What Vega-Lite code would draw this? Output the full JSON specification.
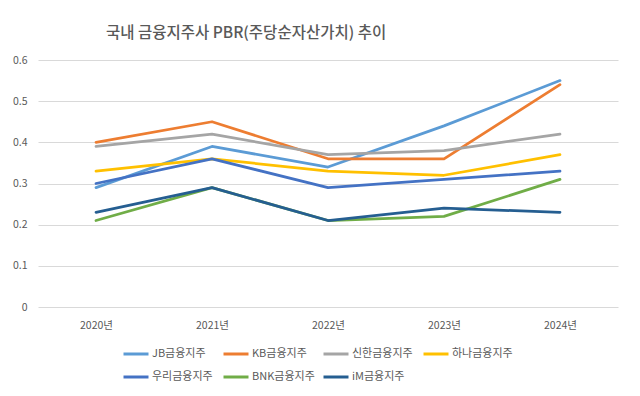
{
  "$schema": "https://vega.github.io/schema/vega-lite/v6.json",
  "autosize": {"type": "none"},
  "width": 580,
  "height": 247,
  "padding": {"left": 38, "top": 60, "right": 22, "bottom": 89},
  "background": "white",
  "title": {
    "text": "국내 금융지주사 PBR(주당순자산가치) 추이",
    "anchor": "start",
    "frame": "group",
    "dx": 68,
    "offset": 14,
    "font": "Noto Sans CJK KR",
    "fontSize": 15.5,
    "fontWeight": 500,
    "color": "#595959"
  },
  "data": {
    "values": [
      {"year": "2020년", "company": "JB금융지주", "pbr": 0.29},
      {"year": "2021년", "company": "JB금융지주", "pbr": 0.39},
      {"year": "2022년", "company": "JB금융지주", "pbr": 0.34},
      {"year": "2023년", "company": "JB금융지주", "pbr": 0.44},
      {"year": "2024년", "company": "JB금융지주", "pbr": 0.55},
      {"year": "2020년", "company": "KB금융지주", "pbr": 0.40},
      {"year": "2021년", "company": "KB금융지주", "pbr": 0.45},
      {"year": "2022년", "company": "KB금융지주", "pbr": 0.36},
      {"year": "2023년", "company": "KB금융지주", "pbr": 0.36},
      {"year": "2024년", "company": "KB금융지주", "pbr": 0.54},
      {"year": "2020년", "company": "신한금융지주", "pbr": 0.39},
      {"year": "2021년", "company": "신한금융지주", "pbr": 0.42},
      {"year": "2022년", "company": "신한금융지주", "pbr": 0.37},
      {"year": "2023년", "company": "신한금융지주", "pbr": 0.38},
      {"year": "2024년", "company": "신한금융지주", "pbr": 0.42},
      {"year": "2020년", "company": "하나금융지주", "pbr": 0.33},
      {"year": "2021년", "company": "하나금융지주", "pbr": 0.36},
      {"year": "2022년", "company": "하나금융지주", "pbr": 0.33},
      {"year": "2023년", "company": "하나금융지주", "pbr": 0.32},
      {"year": "2024년", "company": "하나금융지주", "pbr": 0.37},
      {"year": "2020년", "company": "우리금융지주", "pbr": 0.30},
      {"year": "2021년", "company": "우리금융지주", "pbr": 0.36},
      {"year": "2022년", "company": "우리금융지주", "pbr": 0.29},
      {"year": "2023년", "company": "우리금융지주", "pbr": 0.31},
      {"year": "2024년", "company": "우리금융지주", "pbr": 0.33},
      {"year": "2020년", "company": "BNK금융지주", "pbr": 0.21},
      {"year": "2021년", "company": "BNK금융지주", "pbr": 0.29},
      {"year": "2022년", "company": "BNK금융지주", "pbr": 0.21},
      {"year": "2023년", "company": "BNK금융지주", "pbr": 0.22},
      {"year": "2024년", "company": "BNK금융지주", "pbr": 0.31},
      {"year": "2020년", "company": "iM금융지주", "pbr": 0.23},
      {"year": "2021년", "company": "iM금융지주", "pbr": 0.29},
      {"year": "2022년", "company": "iM금융지주", "pbr": 0.21},
      {"year": "2023년", "company": "iM금융지주", "pbr": 0.24},
      {"year": "2024년", "company": "iM금융지주", "pbr": 0.23}
    ]
  },
  "mark": {"type": "line", "strokeWidth": 2.75, "strokeCap": "round", "strokeJoin": "round"},
  "encoding": {
    "x": {
      "field": "year",
      "type": "nominal",
      "sort": null,
      "scale": {"type": "point", "padding": 0.5},
      "axis": {
        "title": null,
        "labelAngle": 0,
        "domain": false,
        "ticks": false,
        "labelPadding": 13,
        "labelFont": "Noto Sans CJK KR",
        "labelFontSize": 10.5,
        "labelColor": "#595959"
      }
    },
    "y": {
      "field": "pbr",
      "type": "quantitative",
      "scale": {"domain": [0, 0.6], "nice": false},
      "axis": {
        "title": null,
        "values": [0, 0.1, 0.2, 0.3, 0.4, 0.5, 0.6],
        "format": "~g",
        "domain": false,
        "ticks": false,
        "labelPadding": 11,
        "gridColor": "#d9d9d9",
        "gridWidth": 1,
        "labelFont": "Noto Sans CJK KR",
        "labelFontSize": 10.5,
        "labelColor": "#595959"
      }
    },
    "color": {
      "field": "company",
      "type": "nominal",
      "sort": null,
      "scale": {
        "domain": ["JB금융지주", "KB금융지주", "신한금융지주", "하나금융지주", "우리금융지주", "BNK금융지주", "iM금융지주"],
        "range": ["#5B9BD5", "#ED7D31", "#A5A5A5", "#FFC000", "#4472C4", "#70AD47", "#255E91"]
      },
      "legend": {
        "title": null,
        "orient": "none",
        "legendX": 84,
        "legendY": 280,
        "direction": "horizontal",
        "columns": 4,
        "gridAlign": "all",
        "columnPadding": 2,
        "rowPadding": 3,
        "symbolType": "stroke",
        "symbolSize": 625,
        "symbolStrokeWidth": 3,
        "labelOffset": 2,
        "labelFont": "Noto Sans CJK KR",
        "labelFontSize": 11,
        "labelColor": "#595959"
      }
    }
  },
  "config": {
    "view": {"stroke": null}
  }
}
